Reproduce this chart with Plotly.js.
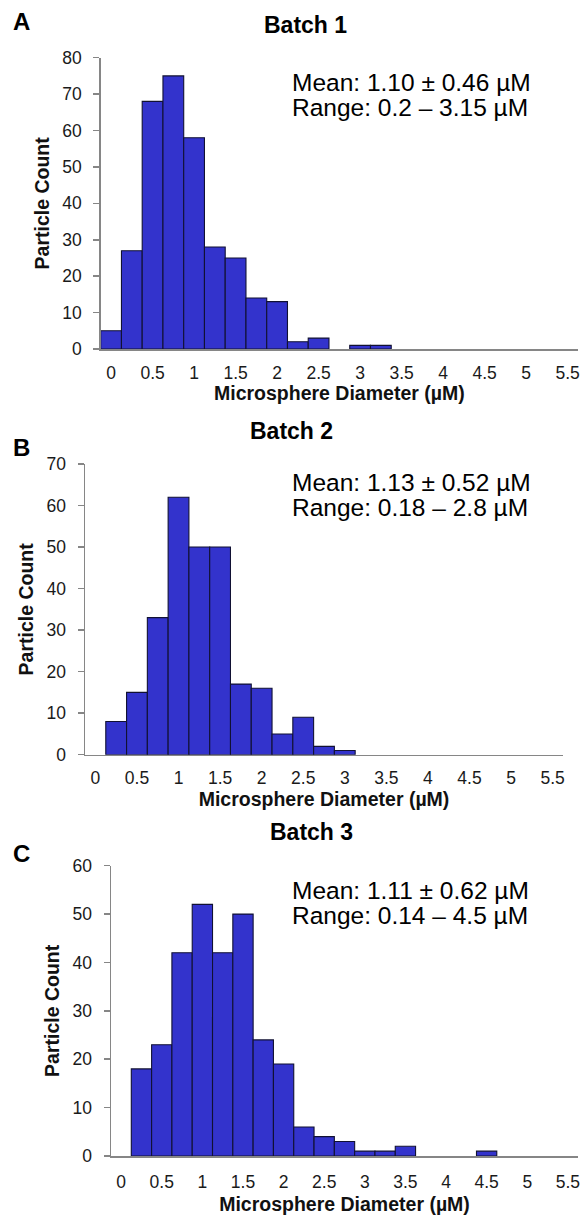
<!DOCTYPE html>
<html>
<head>
<meta charset="utf-8">
<script src="https://cdn.plot.ly/plotly-3.0.1.min.js"></script>
<style>
  html, body { margin: 0; padding: 0; background: #fff; }
  #chart { width: 585px; height: 1217px; }
</style>
</head>
<body>
<div id="chart"></div>
<script>
// ---- data ----
const binCenters = [0, 0.25, 0.5, 0.75, 1, 1.25, 1.5, 1.75, 2, 2.25, 2.5, 2.75,
                    3, 3.25, 3.5, 3.75, 4, 4.25, 4.5, 4.75, 5, 5.25, 5.5];
const batch1Counts = [5, 27, 68, 75, 58, 28, 25, 14, 13, 2, 3, 0, 1, 1, 0, 0, 0, 0, 0, 0, 0, 0, 0];
const batch2Counts = [0, 8, 15, 33, 62, 50, 50, 17, 16, 5, 9, 2, 1, 0, 0, 0, 0, 0, 0, 0, 0, 0, 0];
const batch3Counts = [0, 18, 23, 42, 52, 42, 50, 24, 19, 6, 4, 3, 1, 1, 2, 0, 0, 0, 1, 0, 0, 0, 0];
const panelLetters = ['A', 'B', 'C'];
const panelTitles = ['Batch 1', 'Batch 2', 'Batch 3'];
const meanTexts = ['Mean: 1.10 ± 0.46 µM', 'Mean: 1.13 ± 0.52 µM', 'Mean: 1.11 ± 0.62 µM'];
const rangeTexts = ['Range: 0.2 – 3.15 µM', 'Range: 0.18 – 2.8 µM', 'Range: 0.14 – 4.5 µM'];
const yMax = [80, 70, 60];
const xTitle = 'Microsphere Diameter (µM)';
const yTitle = 'Particle Count';

// ---- layout geometry (pixels on the 585 x 1217 page) ----
const W = 585, H = 1217;
const px = v => v / W;
const py = v => 1 - v / H;
const panels = [
  { left: 100.7, right: 578, top: 57.7, bottom: 349, xlab: 7, xtit: 4,
    letter: [21.7, 21.5], title: [305.6, 25], text: [290, 82.5, 107.5] },
  { left: 85, right: 563, top: 464, bottom: 754.7, xlab: 7, xtit: 4,
    letter: [21.5, 447.5], title: [291.5, 431], text: [290, 482.5, 507.5] },
  { left: 111, right: 578, top: 865.7, bottom: 1156, xlab: 9, xtit: 7,
    letter: [21.5, 853], title: [311, 832.5], text: [290, 890.5, 915.5] }
];
const FONT = 'Liberation Sans, Arial, sans-serif';
const counts = [batch1Counts, batch2Counts, batch3Counts];

const traces = [];
const layout = {
  width: W, height: H,
  margin: { l: 0, r: 0, t: 0, b: 0 },
  paper_bgcolor: '#ffffff', plot_bgcolor: 'rgba(0,0,0,0)',
  showlegend: false, bargap: 0,
  font: { family: FONT, color: '#222222' },
  annotations: []
};

panels.forEach((p, i) => {
  const sfx = i === 0 ? '' : String(i + 1);
  traces.push({
    type: 'bar',
    x: binCenters,
    y: counts[i].map(v => v === 0 ? null : v),
    width: 0.25,
    xaxis: 'x' + sfx, yaxis: 'y' + sfx,
    marker: { color: '#3333CC', line: { color: '#111133', width: 1.1 } },
    hoverinfo: 'x+y'
  });
  layout['xaxis' + sfx] = {
    domain: [px(p.left), px(p.right)],
    anchor: 'y' + sfx,
    range: [-0.125, 5.625],
    tickmode: 'linear', tick0: 0, dtick: 0.5,
    showgrid: false, zeroline: false,
    showline: true, linecolor: '#868686', linewidth: 1.5,
    ticks: '', ticklabelstandoff: p.xlab,
    tickfont: { size: 17.5, family: FONT, color: '#1a1a1a' },
    title: { text: '<b>' + xTitle + '</b>', font: { size: 19.5, family: FONT, color: '#111111' }, standoff: p.xtit },
    fixedrange: true
  };
  layout['yaxis' + sfx] = {
    domain: [py(p.bottom), py(p.top)],
    anchor: 'x' + sfx,
    range: [0, yMax[i]],
    tickmode: 'linear', tick0: 0, dtick: 10,
    showgrid: false, zeroline: false,
    showline: true, linecolor: '#868686', linewidth: 1.5,
    ticks: 'outside', ticklen: 6, tickwidth: 1.5, tickcolor: '#868686',
    ticklabelstandoff: 8,
    tickfont: { size: 17.5, family: FONT, color: '#1a1a1a' },
    title: { text: '<b>' + yTitle + '</b>', font: { size: 19.5, family: FONT, color: '#111111' }, standoff: 7 },
    fixedrange: true
  };
  layout.annotations.push(
    { xref: 'paper', yref: 'paper', x: px(p.letter[0]), y: py(p.letter[1]),
      xanchor: 'center', yanchor: 'middle', showarrow: false,
      text: '<b>' + panelLetters[i] + '</b>', font: { size: 24, family: FONT, color: '#000000' } },
    { xref: 'paper', yref: 'paper', x: px(p.title[0]), y: py(p.title[1]),
      xanchor: 'center', yanchor: 'middle', showarrow: false,
      text: '<b>' + panelTitles[i] + '</b>', font: { size: 23, family: FONT, color: '#000000' } },
    { xref: 'paper', yref: 'paper', x: px(p.text[0]), y: py(p.text[1]),
      xanchor: 'left', yanchor: 'middle', showarrow: false,
      text: meanTexts[i], font: { size: 24.5, family: FONT, color: '#000000' } },
    { xref: 'paper', yref: 'paper', x: px(p.text[0]), y: py(p.text[2]),
      xanchor: 'left', yanchor: 'middle', showarrow: false,
      text: rangeTexts[i], font: { size: 24.5, family: FONT, color: '#000000' } }
  );
});

Plotly.newPlot('chart', traces, layout, { displayModeBar: false, staticPlot: true });
</script>
</body>
</html>
